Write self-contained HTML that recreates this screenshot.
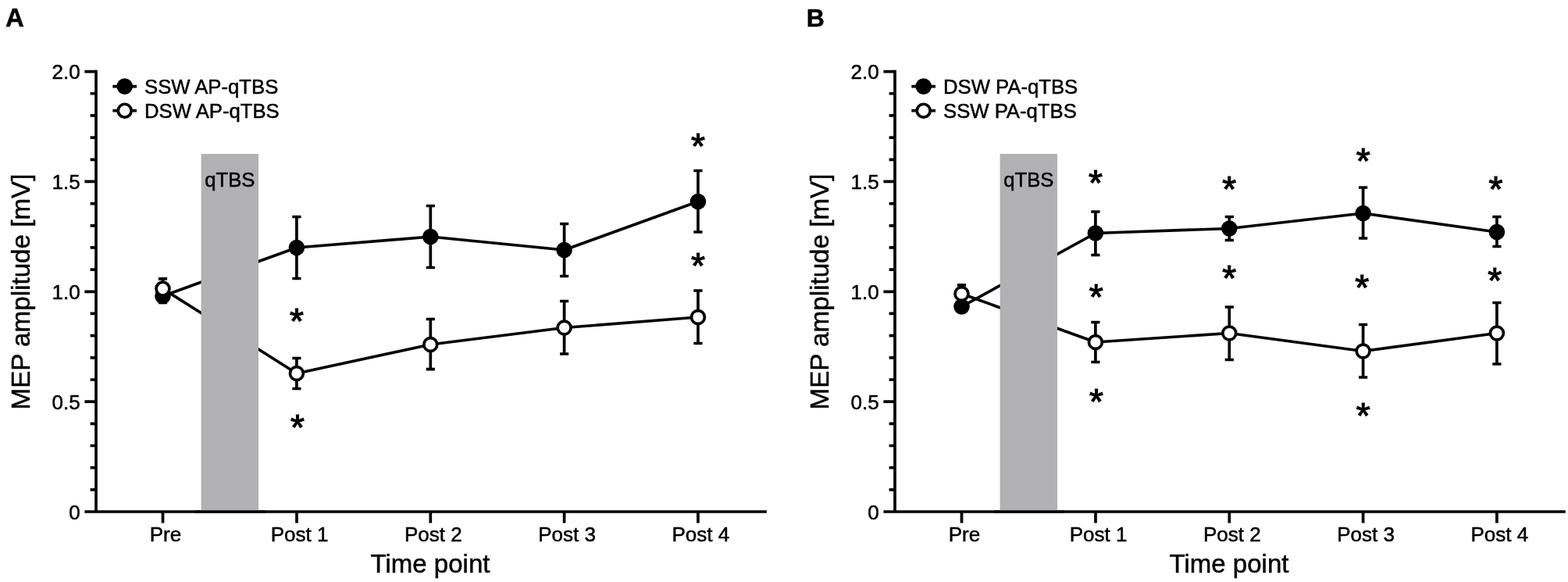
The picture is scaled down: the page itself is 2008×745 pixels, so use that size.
<!DOCTYPE html>
<html lang="en">
<head>
<meta charset="utf-8">
<title>MEP amplitude by time point</title>
<style>
html,body{margin:0;padding:0;background:#fff;}
body{width:2008px;height:745px;overflow:hidden;}
svg{display:block;}
text{font-family:"Liberation Sans",sans-serif;fill:#000;stroke:#000;stroke-width:0.5px;stroke-linejoin:round;}
.yt{font-size:26px;}
.xt{font-size:26px;}
.at{font-size:33.2px;}
.lg{font-size:25.7px;}
.pl{font-size:33px;font-weight:bold;}
.st{font-size:46px;stroke-width:1.2px;stroke-linejoin:miter;}
</style>
</head>
<body>
<svg width="2008" height="745" viewBox="0 0 2008 745">
<rect width="2008" height="745" fill="#fff"/>
<g transform="translate(0,0)">
<path d="M123.0 89.75 V655.0 M108.40 655.0 H981.8" fill="none" stroke="#000" stroke-width="3.7"/>
<path d="M115.60 626.83 H123.0 M115.60 598.66 H123.0 M115.60 570.49 H123.0 M115.60 542.32 H123.0 M108.40 514.15 H123.0 M115.60 485.98 H123.0 M115.60 457.81 H123.0 M115.60 429.64 H123.0 M115.60 401.47 H123.0 M108.40 373.30 H123.0 M115.60 345.13 H123.0 M115.60 316.96 H123.0 M115.60 288.79 H123.0 M115.60 260.62 H123.0 M108.40 232.45 H123.0 M115.60 204.28 H123.0 M115.60 176.11 H123.0 M115.60 147.94 H123.0 M115.60 119.77 H123.0 M108.40 91.60 H123.0" fill="none" stroke="#000" stroke-width="3.7"/>
<path d="M208.50 655.0 V669.60 M380.00 655.0 V669.60 M551.30 655.0 V669.60 M722.60 655.0 V669.60 M893.90 655.0 V669.60" fill="none" stroke="#000" stroke-width="3.7"/>
<text class="yt" transform="translate(102.7,664.50) scale(1,1.02)" text-anchor="end">0</text>
<text class="yt" transform="translate(102.7,523.65) scale(1,1.02)" text-anchor="end">0.5</text>
<text class="yt" transform="translate(102.7,382.80) scale(1,1.02)" text-anchor="end">1.0</text>
<text class="yt" transform="translate(102.7,241.95) scale(1,1.02)" text-anchor="end">1.5</text>
<text class="yt" transform="translate(102.7,101.10) scale(1,1.02)" text-anchor="end">2.0</text>
<text class="xt" x="212.00" y="693.3" text-anchor="middle">Pre</text>
<text class="xt" x="383.50" y="693.3" text-anchor="middle">Post 1</text>
<text class="xt" x="554.80" y="693.3" text-anchor="middle">Post 2</text>
<text class="xt" x="726.10" y="693.3" text-anchor="middle">Post 3</text>
<text class="xt" x="897.40" y="693.3" text-anchor="middle">Post 4</text>
<text class="at" x="551" y="733.3" text-anchor="middle" style="font-size:33px">Time point</text>
<text class="at" transform="translate(37.8,373.5) rotate(-90)" text-anchor="middle">MEP amplitude [mV]</text>
<text class="pl" x="7" y="34.4">A</text>
<path d="M144.3 110.6 H175 M144.3 141.7 H175" stroke="#000" stroke-width="3.7" fill="none"/>
<circle cx="159.7" cy="110.6" r="10.3" fill="#000"/>
<circle cx="159.7" cy="141.7" r="8.45" fill="#fff" stroke="#000" stroke-width="3.7"/>
<text class="lg" x="185" y="119.5">SSW AP-qTBS</text>
<text class="lg" x="185" y="150.5">DSW AP-qTBS</text>
<polyline points="208.50,379.00 379.90,317.00 551.30,303.00 722.60,320.00 893.90,258.00" fill="none" stroke="#000" stroke-width="3.7" stroke-linejoin="round"/>
<polyline points="208.50,369.60 379.90,478.00 551.30,441.00 722.60,419.50 893.90,406.00" fill="none" stroke="#000" stroke-width="3.7" stroke-linejoin="round"/>
<rect x="257.6" y="197" width="73.4" height="458.00" fill="#b1b1b3"/>
<path d="M250 655.0 H340" fill="none" stroke="#000" stroke-width="3.7"/>
<path d="M208.50 370.00 V387.50 M202.90 370.00 H214.10 M202.90 387.50 H214.10 M379.90 277.50 V356.50 M374.30 277.50 H385.50 M374.30 356.50 H385.50 M551.30 263.50 V342.50 M545.70 263.50 H556.90 M545.70 342.50 H556.90 M722.60 286.50 V353.50 M717.00 286.50 H728.20 M717.00 353.50 H728.20 M893.90 218.50 V297.00 M888.30 218.50 H899.50 M888.30 297.00 H899.50" fill="none" stroke="#000" stroke-width="3.7"/>
<circle cx="208.50" cy="379.00" r="10.3" fill="#000"/>
<circle cx="379.90" cy="317.00" r="10.3" fill="#000"/>
<circle cx="551.30" cy="303.00" r="10.3" fill="#000"/>
<circle cx="722.60" cy="320.00" r="10.3" fill="#000"/>
<circle cx="893.90" cy="258.00" r="10.3" fill="#000"/>
<path d="M208.50 356.80 V369.60 M202.90 356.80 H214.10 M202.90 369.60 H214.10 M379.90 458.50 V497.50 M374.30 458.50 H385.50 M374.30 497.50 H385.50 M551.30 408.50 V472.60 M545.70 408.50 H556.90 M545.70 472.60 H556.90 M722.60 385.50 V453.00 M717.00 385.50 H728.20 M717.00 453.00 H728.20 M893.90 372.00 V439.50 M888.30 372.00 H899.50 M888.30 439.50 H899.50" fill="none" stroke="#000" stroke-width="3.7"/>
<circle cx="208.50" cy="369.60" r="8.45" fill="#fff" stroke="#000" stroke-width="3.7"/>
<circle cx="379.90" cy="478.00" r="8.45" fill="#fff" stroke="#000" stroke-width="3.7"/>
<circle cx="551.30" cy="441.00" r="8.45" fill="#fff" stroke="#000" stroke-width="3.7"/>
<circle cx="722.60" cy="419.50" r="8.45" fill="#fff" stroke="#000" stroke-width="3.7"/>
<circle cx="893.90" cy="406.00" r="8.45" fill="#fff" stroke="#000" stroke-width="3.7"/>
<text class="lg" x="294.3" y="239.3" text-anchor="middle">qTBS</text>
<text class="st" x="893.90" y="203.40" text-anchor="middle">*</text>
<text class="st" x="893.90" y="356.40" text-anchor="middle">*</text>
<text class="st" x="380.00" y="427.40" text-anchor="middle">*</text>
<text class="st" x="381.00" y="563.40" text-anchor="middle">*</text>
</g>
<g transform="translate(1023.0,0)">
<path d="M123.0 89.75 V655.0 M108.40 655.0 H981.8" fill="none" stroke="#000" stroke-width="3.7"/>
<path d="M115.60 626.83 H123.0 M115.60 598.66 H123.0 M115.60 570.49 H123.0 M115.60 542.32 H123.0 M108.40 514.15 H123.0 M115.60 485.98 H123.0 M115.60 457.81 H123.0 M115.60 429.64 H123.0 M115.60 401.47 H123.0 M108.40 373.30 H123.0 M115.60 345.13 H123.0 M115.60 316.96 H123.0 M115.60 288.79 H123.0 M115.60 260.62 H123.0 M108.40 232.45 H123.0 M115.60 204.28 H123.0 M115.60 176.11 H123.0 M115.60 147.94 H123.0 M115.60 119.77 H123.0 M108.40 91.60 H123.0" fill="none" stroke="#000" stroke-width="3.7"/>
<path d="M208.50 655.0 V669.60 M380.00 655.0 V669.60 M551.30 655.0 V669.60 M722.60 655.0 V669.60 M893.90 655.0 V669.60" fill="none" stroke="#000" stroke-width="3.7"/>
<text class="yt" transform="translate(102.7,664.50) scale(1,1.02)" text-anchor="end">0</text>
<text class="yt" transform="translate(102.7,523.65) scale(1,1.02)" text-anchor="end">0.5</text>
<text class="yt" transform="translate(102.7,382.80) scale(1,1.02)" text-anchor="end">1.0</text>
<text class="yt" transform="translate(102.7,241.95) scale(1,1.02)" text-anchor="end">1.5</text>
<text class="yt" transform="translate(102.7,101.10) scale(1,1.02)" text-anchor="end">2.0</text>
<text class="xt" x="212.00" y="693.3" text-anchor="middle">Pre</text>
<text class="xt" x="383.50" y="693.3" text-anchor="middle">Post 1</text>
<text class="xt" x="554.80" y="693.3" text-anchor="middle">Post 2</text>
<text class="xt" x="726.10" y="693.3" text-anchor="middle">Post 3</text>
<text class="xt" x="897.40" y="693.3" text-anchor="middle">Post 4</text>
<text class="at" x="551" y="733.3" text-anchor="middle" style="font-size:33px">Time point</text>
<text class="at" transform="translate(37.8,373.5) rotate(-90)" text-anchor="middle">MEP amplitude [mV]</text>
<text class="pl" x="9.7" y="34.0" style="font-size:32px">B</text>
<path d="M144.3 110.6 H175 M144.3 141.7 H175" stroke="#000" stroke-width="3.7" fill="none"/>
<circle cx="159.7" cy="110.6" r="10.3" fill="#000"/>
<circle cx="159.7" cy="141.7" r="8.45" fill="#fff" stroke="#000" stroke-width="3.7"/>
<text class="lg" x="185" y="119.5">DSW PA-qTBS</text>
<text class="lg" x="185" y="150.5">SSW PA-qTBS</text>
<polyline points="208.50,392.50 379.90,298.50 551.30,292.50 722.60,273.00 893.90,297.00" fill="none" stroke="#000" stroke-width="3.7" stroke-linejoin="round"/>
<polyline points="208.50,376.00 379.90,438.00 551.30,426.50 722.60,449.50 893.90,426.50" fill="none" stroke="#000" stroke-width="3.7" stroke-linejoin="round"/>
<rect x="257.6" y="197" width="73.4" height="458.00" fill="#b1b1b3"/>
<path d="M250 655.0 H340" fill="none" stroke="#000" stroke-width="3.7"/>
<path d="M379.90 271.00 V326.50 M374.30 271.00 H385.50 M374.30 326.50 H385.50 M551.30 277.50 V307.50 M545.70 277.50 H556.90 M545.70 307.50 H556.90 M722.60 240.00 V305.00 M717.00 240.00 H728.20 M717.00 305.00 H728.20 M893.90 277.50 V315.50 M888.30 277.50 H899.50 M888.30 315.50 H899.50" fill="none" stroke="#000" stroke-width="3.7"/>
<circle cx="208.50" cy="392.50" r="10.3" fill="#000"/>
<circle cx="379.90" cy="298.50" r="10.3" fill="#000"/>
<circle cx="551.30" cy="292.50" r="10.3" fill="#000"/>
<circle cx="722.60" cy="273.00" r="10.3" fill="#000"/>
<circle cx="893.90" cy="297.00" r="10.3" fill="#000"/>
<path d="M208.50 364.80 V376.00 M202.90 364.80 H214.10 M202.90 376.00 H214.10 M379.90 412.50 V463.50 M374.30 412.50 H385.50 M374.30 463.50 H385.50 M551.30 393.00 V460.50 M545.70 393.00 H556.90 M545.70 460.50 H556.90 M722.60 415.50 V483.00 M717.00 415.50 H728.20 M717.00 483.00 H728.20 M893.90 387.50 V466.00 M888.30 387.50 H899.50 M888.30 466.00 H899.50" fill="none" stroke="#000" stroke-width="3.7"/>
<circle cx="208.50" cy="376.00" r="8.45" fill="#fff" stroke="#000" stroke-width="3.7"/>
<circle cx="379.90" cy="438.00" r="8.45" fill="#fff" stroke="#000" stroke-width="3.7"/>
<circle cx="551.30" cy="426.50" r="8.45" fill="#fff" stroke="#000" stroke-width="3.7"/>
<circle cx="722.60" cy="449.50" r="8.45" fill="#fff" stroke="#000" stroke-width="3.7"/>
<circle cx="893.90" cy="426.50" r="8.45" fill="#fff" stroke="#000" stroke-width="3.7"/>
<text class="lg" x="294.3" y="239.3" text-anchor="middle">qTBS</text>
<text class="st" x="380.00" y="250.40" text-anchor="middle">*</text>
<text class="st" x="551.30" y="258.40" text-anchor="middle">*</text>
<text class="st" x="722.60" y="222.40" text-anchor="middle">*</text>
<text class="st" x="892.40" y="258.40" text-anchor="middle">*</text>
<text class="st" x="380.60" y="396.40" text-anchor="middle">*</text>
<text class="st" x="551.30" y="372.40" text-anchor="middle">*</text>
<text class="st" x="721.20" y="383.80" text-anchor="middle">*</text>
<text class="st" x="891.10" y="374.90" text-anchor="middle">*</text>
<text class="st" x="381.00" y="530.40" text-anchor="middle">*</text>
<text class="st" x="722.60" y="548.40" text-anchor="middle">*</text>
</g>
</svg>
</body>
</html>
